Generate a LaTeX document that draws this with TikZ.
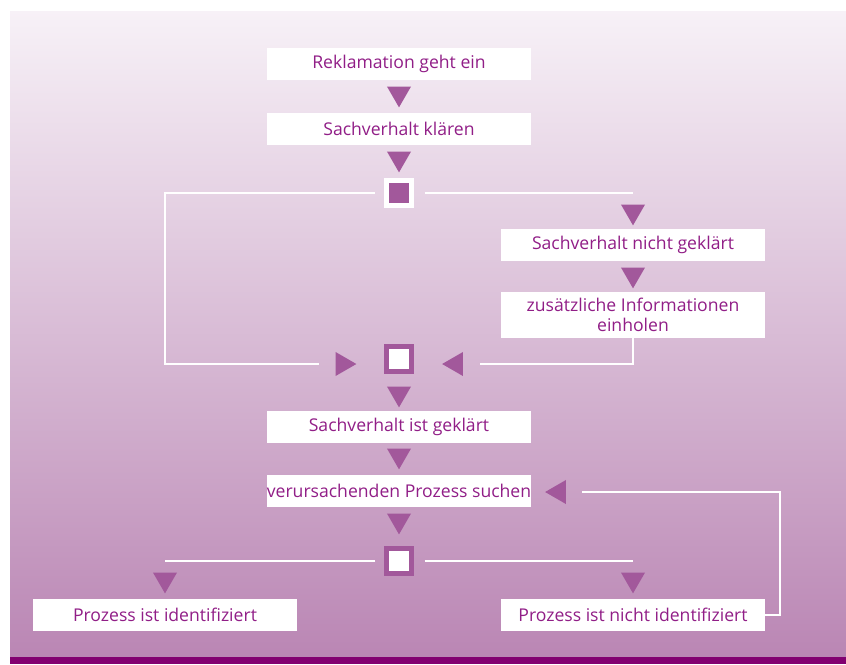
\documentclass[tikz,border=0pt]{standalone}
\usepackage{fontspec}
\setmainfont{Open Sans}
\usetikzlibrary{shapes.geometric,positioning}
\definecolor{lila}{RGB}{145,30,135}
\definecolor{pfeil}{RGB}{162,88,155}
\definecolor{bgtop}{RGB}{247,241,247}
\definecolor{bgbottom}{RGB}{186,134,180}
\definecolor{balken}{RGB}{130,0,112}
\tikzset{
  box/.style={fill=white,text=lila,minimum width=198pt,minimum height=24pt,
    inner sep=0pt,align=center,font=\fontsize{13.2}{15}\selectfont},
  tri/.style={regular polygon,regular polygon sides=3,fill=pfeil,
    minimum size=20.8pt,inner sep=0pt},
  down/.style={tri,shape border rotate=180},
  left/.style={tri,shape border rotate=90},
  right/.style={tri,shape border rotate=-90},
  split/.style={rectangle,draw=white,fill=pfeil,line width=3.75pt,
    minimum size=18.75pt,inner sep=0pt},
  merge/.style={rectangle,draw=pfeil,fill=white,line width=3.75pt,
    minimum size=18.75pt,inner sep=0pt},
  link/.style={draw=white,line width=2pt}
}
\begin{document}
\begin{tikzpicture}[x=0.75pt,y=-0.75pt]
      \useasboundingbox (0,0) rectangle (846,664);
      \shade[top color=bgtop,bottom color=bgbottom] (10,11) rectangle (846,657);
      \fill[balken] (10,657) rectangle (846,664);
      \begin{scope}[every node/.style={box}]
        \node (rek) at (399,64) {Reklamation geht ein};
        \node (klaeren) at (399,129) {Sachverhalt kl\"aren};
        \node (nicht) at (633,245) {Sachverhalt nicht gekl\"art};
        \node[minimum height=34.5pt] (info) at (633,315) {zus\"atzliche Informationen\\einholen};
        \node (geklaert) at (399,427) {Sachverhalt ist gekl\"art};
        \node (suchen) at (399,491) {verursachenden Prozess suchen};
        \node (ident) at (165,615) {Prozess ist identifiziert};
        \node (nident) at (633,615) {Prozess ist nicht identifiziert};
      \end{scope}
      \node[split] (d1) at (399,193) {};
      \node[merge] (d2) at (399,359) {};
      \node[merge] (d3) at (399,561) {};
      \begin{scope}
        \node[down] (t1) at (399,93.5) {};
        \node[down] (t2) at (399,158.5) {};
        \node[down] (tS) at (633,211.5) {};
        \node[down] (t4) at (633,274.5) {};
        \node[right] (tL) at (342.5,364) {};
        \node[left] (tR) at (456,364) {};
        \node[down] (t5) at (399,393.5) {};
        \node[down] (t6) at (399,455.5) {};
        \node[left] (tB) at (559,492) {};
        \node[down] (t7) at (399,520.5) {};
        \node[down] (tA) at (165,579.5) {};
        \node[down] (tC) at (633,579.5) {};
      \end{scope}
      \coordinate (kL) at (165,364);
      \coordinate (kR) at (780,615);
      \begin{scope}[every path/.style={link}]
        \draw[shorten <=7pt,shorten >=12pt] (d1.west) -| (kL) -- (tL.west);
        \draw[shorten <=8pt] (d1.east) -- (d1.east -| tS);
        \draw[shorten >=12.5pt] (info.south) |- (tR.east);
        \draw[shorten >=12pt] (nident.east) -- (kR) |- (tB.east);
        \draw[shorten <=6.5pt] (d3.west) -- (d3.west -| tA);
        \draw[shorten <=8pt] (d3.east) -- (d3.east -| tC);
      \end{scope}
    \end{tikzpicture}
\end{document}
